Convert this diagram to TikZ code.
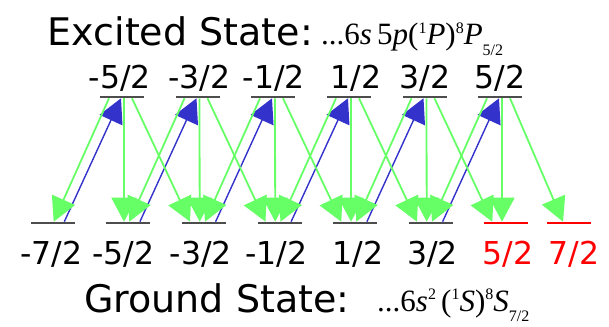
\documentclass[tikz,border=0pt]{standalone}
\usepackage{fontspec}
\setmainfont{DejaVu Sans}
\newfontfamily\tms{Liberation Serif}
\usetikzlibrary{arrows.meta,calc}
\definecolor{gr}{RGB}{102,255,102}
\definecolor{bl}{RGB}{51,51,204}
\definecolor{lv}{RGB}{77,77,77}
\newcommand\upsc[1]{\raisebox{0.36em}{\fontsize{16}{16}\selectfont #1}}
\newcommand\dnsc[1]{\raisebox{-0.33em}{\fontsize{16}{16}\selectfont #1}}
\begin{document}
\begin{tikzpicture}[x=1pt,y=-1pt,
  lev/.style={fill=lv, minimum width=44pt, minimum height=2.6pt, inner sep=0pt, draw=none},
  redlev/.style={lev, fill=red},
  lab/.style={font=\fontsize{31.5}{32}\selectfont, inner sep=0pt, anchor=base},
  redlab/.style={lab, text=red},
  title/.style={font=\fontsize{38}{40}\selectfont, inner sep=0pt, anchor=base west},
  formula/.style={font=\tms\fontsize{31}{33}\selectfont, inner sep=0pt, anchor=base west},
  decay/.style={draw=gr, line width=1.8pt, -{Triangle[length=24pt,width=25pt]}},
  pump/.style={draw=bl, line width=1.4pt, -{Triangle[length=24pt,width=25pt]}}]
\useasboundingbox (0,0) rectangle (609,326);
% levels
\foreach \n/\x in {0/122,1/197.5,2/273,3/349,4/424.5,5/500}
  \node[lev] (e\n) at (\x,97) {};
\foreach \n/\x in {0/52.7,1/128.3,2/204,3/279.5,4/355.3,5/431}
  \node[lev] (g\n) at (\x,223) {};
\node[redlev] (g6) at (506.3,223) {};
\node[redlev] (g7) at (569,223) {};
% pumping (blue)
\foreach \k in {0,...,5}
  \draw[pump] ($(g\k)+(11.6,-1.3)$) -- ($(e\k)+(-1,1.3)$);
% decay (green)
\foreach \k/\j/\i in {0/1/2,1/2/3,2/3/4,3/4/5,4/5/6} {
  \draw[decay] ($(e\k)+(-13,1.3)$) -- ($(g\k)+(1,-1.3)$);
  \draw[decay] ($(e\k)+(2,1.3)$) -- ($(g\j)+(-4.3,-1.3)$);
  \draw[decay] ($(e\k)+(10,1.3)$) -- ($(g\i)+(-14,-1.3)$);
}
\draw[decay] ($(e5)+(-13,1.3)$) -- ($(g5)+(1,-1.3)$);
\draw[decay] ($(e5)+(2,1.3)$) -- ($(g6)+(-4.3,-1.3)$);
\draw[decay] ($(e5)+(10,1.3)$) -- ($(g7)+(-6,-1.3)$);
% labels
\node[lab] (le0) at (120,88.5) {-5/2};
\node[lab] (le1) at (199.5,88.5) {-3/2};
\node[lab] (le2) at (273.8,88.5) {-1/2};
\node[lab] (le3) at (356,88.5) {1/2};
\node[lab] (le4) at (425,88.5) {3/2};
\node[lab] (le5) at (500,88.5) {5/2};
\node[lab] (lg0) at (51.5,264) {-7/2};
\node[lab] (lg1) at (123.5,264) {-5/2};
\node[lab] (lg2) at (201,264) {-3/2};
\node[lab] (lg3) at (276.5,264) {-1/2};
\node[lab] (lg4) at (358,264) {1/2};
\node[lab] (lg5) at (432.5,264) {3/2};
\node[redlab] (lg6) at (508,264) {5/2};
\node[redlab] (lg7) at (574,264) {7/2};
% titles
\node[title] (ex) at (47.5,46) {Excited State:};
\node[formula] (exf) at (321,45) {...6\textit{s}\,5\textit{p}(\upsc{1}\textit{P})\upsc{8}\textit{P}\dnsc{5/2}};
\node[title] (gs) at (84,312) {Ground State:};
\node[formula] (gsf) at (377,311) {...6\textit{s}\upsc{2}\,(\upsc{1}\textit{S})\upsc{8}\textit{S}\dnsc{7/2}};
\end{tikzpicture}
\end{document}
